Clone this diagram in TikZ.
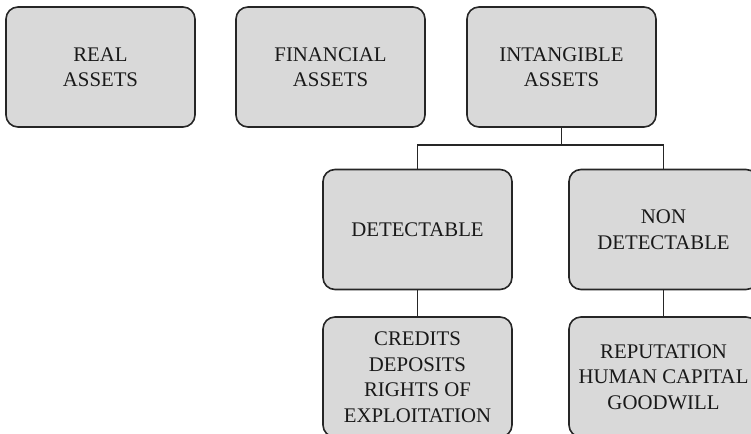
\documentclass[tikz,border=0pt]{standalone}
\usepackage{fontspec}
\setmainfont{Liberation Serif}
\definecolor{boxfill}{HTML}{D9D9D9}
\definecolor{boxline}{HTML}{262626}
\begin{document}
\begin{tikzpicture}[x=1pt,y=-1pt,
  box/.style={draw=boxline, fill=boxfill, line width=1.6pt, rounded corners=12pt,
    minimum width=189pt, minimum height=120pt, inner sep=0pt, align=center,
    text=black!90, font=\fontsize{20.8}{25.5}\selectfont},
  link/.style={draw=boxline, line width=1.8pt}]
\useasboundingbox (0,0) rectangle (751,433);
\node[box] (real) at (100.5,67) {REAL\\ASSETS};
\node[box] (fin) at (330.5,67) {FINANCIAL\\ASSETS};
\node[box] (intan) at (561.5,67) {INTANGIBLE\\ASSETS};
\node[box] (det) at (417.5,229.5) {DETECTABLE};
\node[box] (nondet) at (663.5,229.5) {NON\\DETECTABLE};
\node[box] (cred) at (417.5,377) {CREDITS\\DEPOSITS\\RIGHTS OF\\EXPLOITATION};
\node[box] (rep) at (663.5,377) {REPUTATION\\HUMAN CAPITAL\\GOODWILL};
\coordinate (bus) at ([yshift=-17pt]intan.south);
\draw[link] (intan.south) -- (bus) -| (det.north);
\draw[link] (bus) -| (nondet.north);
\draw[link] (det.south) -- (cred.north);
\draw[link] (nondet.south) -- (rep.north);
\end{tikzpicture}
\end{document}
